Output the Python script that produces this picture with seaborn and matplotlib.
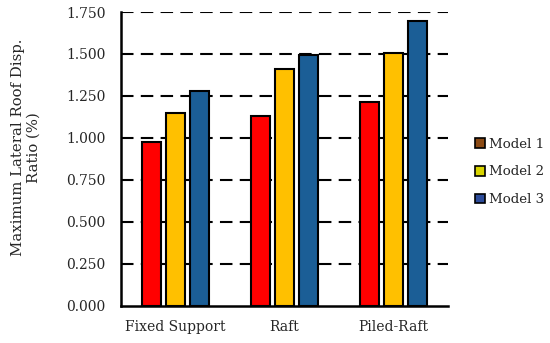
import pandas as pd
import seaborn as sns
import matplotlib.pyplot as plt
from matplotlib.patches import Patch

# bar chart of max lateral roof displacement ratio per foundation type

supports = ['Fixed Support', 'Raft', 'Piled-Raft']
models = ['Model 1', 'Model 2', 'Model 3']
model_1 = [0.978, 1.133, 1.216]
model_2 = [1.151, 1.409, 1.508]
model_3 = [1.280, 1.494, 1.696]

bar_colors = ['#FF0000', '#FFC000', '#1B5E96']
legend_colors = ['#8B4A14', '#D8D400', '#2D4C9A']

df = pd.DataFrame({
    'support': supports * 3,
    'model': [m for m in models for _ in supports],
    'ratio': model_1 + model_2 + model_3,
})

sns.set_style('white')
plt.rcParams['font.family'] = ['DejaVu Serif']

fig = plt.figure(figsize=(5.5, 3.43), dpi=100)
ax = fig.add_axes([0.22, 0.108, 0.595, 0.857])

ax.set_axisbelow(True)
ax.yaxis.grid(True, linestyle=(0, (6, 3.5)), color='black', linewidth=1.5)

sns.barplot(data=df, x='support', y='ratio', hue='model', palette=bar_colors,
            saturation=1, width=0.66, gap=0.2, edgecolor='black',
            linewidth=1.5, ax=ax, legend=False)

ax.set_xlim(-0.5, 2.5)
ax.set_ylim(0, 1.75)
ax.set_yticks([i * 0.25 for i in range(8)])
ax.set_yticklabels([f'{i * 0.25:.3f}' for i in range(8)])
ax.yaxis.get_gridlines()[0].set_visible(False)
ax.tick_params(axis='y', length=0, labelsize=10, pad=11)
ax.tick_params(axis='x', length=0, labelsize=10, pad=10)
ax.set_xlabel('')
ax.set_ylabel('Maximum Lateral Roof Disp.\nRatio (%)', fontsize=10.7)
ax.yaxis.set_label_coords(-0.245, 0.54)

for side in ['top', 'right']:
    ax.spines[side].set_visible(False)
for side in ['left', 'bottom']:
    ax.spines[side].set_color('black')
    ax.spines[side].set_linewidth(1.8)

handles = [Patch(facecolor=c, edgecolor='black', linewidth=1.2) for c in legend_colors]
ax.legend(handles, models, loc='center left', bbox_to_anchor=(1.066, 0.456),
          frameon=False, fontsize=9.6, handlelength=0.75, handleheight=0.75,
          handletextpad=0.25, labelspacing=1.1, borderaxespad=0)

fig.savefig('out.png', dpi=100)
